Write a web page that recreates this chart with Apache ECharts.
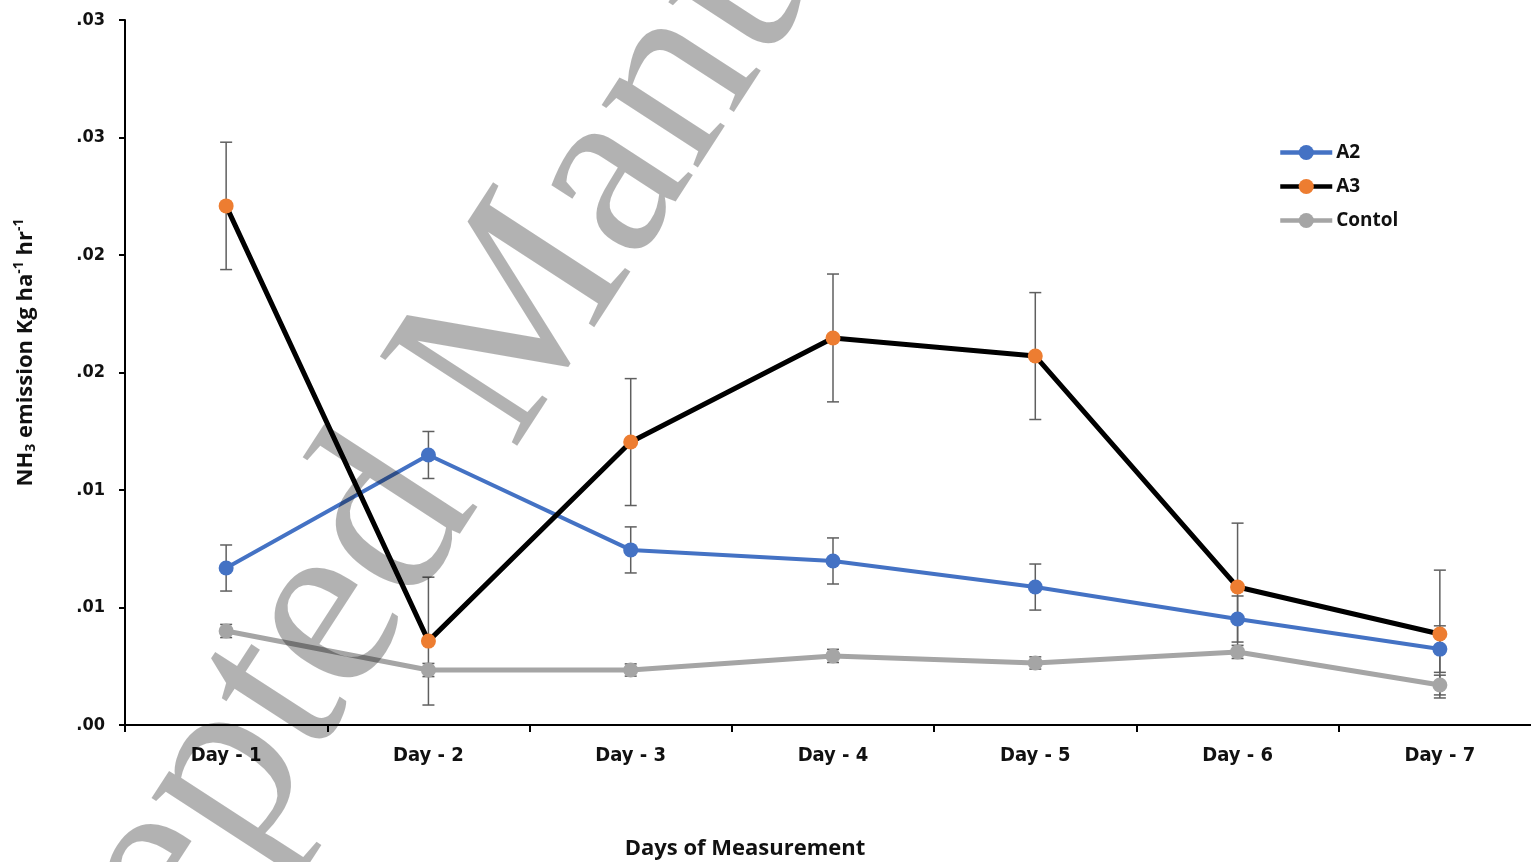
<!DOCTYPE html>
<html>
<head>
<meta charset="utf-8">
<title>NH3 emission</title>
<script src="https://cdn.jsdelivr.net/npm/echarts@6/dist/echarts.min.js"></script>
<style>
  html, body { margin: 0; padding: 0; background: #fff; }
  #chart { width: 1531px; height: 862px; }
</style>
</head>
<body>
<div id="chart"></div>
<script>
// Categories and tick labels
const days = ['Day - 1', 'Day - 2', 'Day - 3', 'Day - 4', 'Day - 5', 'Day - 6', 'Day - 7'];
const yTickLabels = ['.00', '.01', '.01', '.02', '.02', '.03', '.03'];

// Series values
const a2 = [0.00668, 0.01149, 0.00745, 0.00698, 0.00587, 0.00451, 0.00323];
const a3 = [0.02209, 0.00357, 0.01204, 0.01647, 0.01570, 0.00587, 0.00387];
const contol = [0.00400, 0.00234, 0.00234, 0.00294, 0.00264, 0.00311, 0.00170];

// Error bar half-widths
const a2Err = [0.00098, 0.00100, 0.00098, 0.00098, 0.00098, 0.00098, 0.00099];
const a3Err = [0.00271, 0.00272, 0.00270, 0.00272, 0.00270, 0.00272, 0.00272];
const contolErr = [0.00028, 0.00028, 0.00026, 0.00028, 0.00026, 0.00028, 0.00042];

const narrowFont = "'Liberation Sans Narrow', 'DejaVu Sans Condensed', sans-serif";
const titleFont = "'Open Sans', 'Noto Sans', sans-serif";

const chart = echarts.init(document.getElementById('chart'));

// Error bar custom series
const errorBars = (name, values, errs) => ({
  name: name + ' err',
  type: 'custom',
  z: 1,
  silent: true,
  data: values.map((v, i) => [i, v - errs[i], v + errs[i]]),
  renderItem: (params, api) => {
    const lo = api.coord([api.value(0), api.value(1)]);
    const hi = api.coord([api.value(0), api.value(2)]);
    const w = 6;
    const style = { stroke: '#5f5f5f', lineWidth: 1.5, fill: null };
    return {
      type: 'group',
      children: [
        { type: 'line', shape: { x1: lo[0], y1: lo[1], x2: hi[0], y2: hi[1] }, style },
        { type: 'line', shape: { x1: lo[0] - w, y1: lo[1], x2: lo[0] + w, y2: lo[1] }, style },
        { type: 'line', shape: { x1: hi[0] - w, y1: hi[1], x2: hi[0] + w, y2: hi[1] }, style }
      ]
    };
  }
});

const lineSeries = (name, values, lineColor, markColor, width) => ({
  name,
  type: 'line',
  z: 3,
  data: values,
  symbol: 'circle',
  symbolSize: 15,
  lineStyle: { color: lineColor, width },
  itemStyle: { color: markColor },
  emphasis: { disabled: true }
});

const option = {
  animation: false,
  backgroundColor: '#fff',
  grid: { left: 125, top: 20, width: 1416, height: 705, containLabel: false, outerBoundsMode: 'none' },
  legend: {
    orient: 'vertical',
    left: 1273,
    top: 138,
    itemWidth: 52,
    itemHeight: 19,
    itemGap: 15,
    lineStyle: { width: 4.5 },
    data: ['A2', 'A3', 'Contol'],
    textStyle: { fontFamily: titleFont, fontWeight: 'bold', fontSize: 19, color: '#111', padding: [0, 0, 0, -1] }
  },
  xAxis: {
    type: 'category',
    data: days,
    boundaryGap: true,
    axisLine: { lineStyle: { color: '#000', width: 2 } },
    axisTick: { show: true, length: 7, lineStyle: { color: '#000', width: 2 } },
    axisLabel: { fontFamily: narrowFont, fontWeight: 'bold', fontSize: 20, color: '#111', margin: 21 },
    name: 'Days of Measurement',
    nameLocation: 'middle',
    nameGap: 113,
    nameTextStyle: { fontFamily: titleFont, fontWeight: 'bold', fontSize: 22, color: '#111', padding: [0, 176, 0, 0] }
  },
  yAxis: {
    type: 'value',
    min: 0,
    max: 0.03,
    interval: 0.005,
    splitLine: { show: false },
    axisLine: { show: true, lineStyle: { color: '#000', width: 2 } },
    axisTick: { show: true, length: 6, lineStyle: { color: '#000', width: 2 } },
    axisLabel: {
      fontFamily: narrowFont, fontWeight: 'bold', fontSize: 18, color: '#111', margin: 20,
      formatter: v => yTickLabels[Math.round(v / 0.005)]
    },
    name: '{b|NH}{sub|3}{b| emission Kg ha}{sup|-1}{b| hr}{sup|-1}',
    nameLocation: 'middle',
    nameGap: 86,
    nameTextStyle: {
      padding: [0, 0, 0, 40],
      rich: {
        b: { fontFamily: titleFont, fontWeight: 'bold', fontSize: 22, color: '#111' },
        sub: { fontFamily: titleFont, fontWeight: 'bold', fontSize: 14, color: '#111', padding: [11, 0, 0, 0] },
        sup: { fontFamily: titleFont, fontWeight: 'bold', fontSize: 14, color: '#111', padding: [0, 0, 13, 0] }
      }
    }
  },
  graphic: [{
    type: 'text',
    silent: true,
    z: 100,
    x: -90,
    y: 1260,
    rotation: 57 * Math.PI / 180,
    style: {
      text: 'Accepted Manuscript',
      font: '250px "Liberation Serif", "DejaVu Serif", serif',
      fill: 'rgba(0,0,0,0.3)',
      textAlign: 'left',
      textVerticalAlign: 'middle'
    }
  }],
  series: [
    errorBars('A2', a2, a2Err),
    errorBars('A3', a3, a3Err),
    errorBars('Contol', contol, contolErr),
    lineSeries('A2', a2, '#4472c4', '#4472c4', 4),
    lineSeries('A3', a3, '#000000', '#ed7d31', 5),
    lineSeries('Contol', contol, '#a5a5a5', '#a5a5a5', 5)
  ]
};

chart.setOption(option);
</script>
</body>
</html>
